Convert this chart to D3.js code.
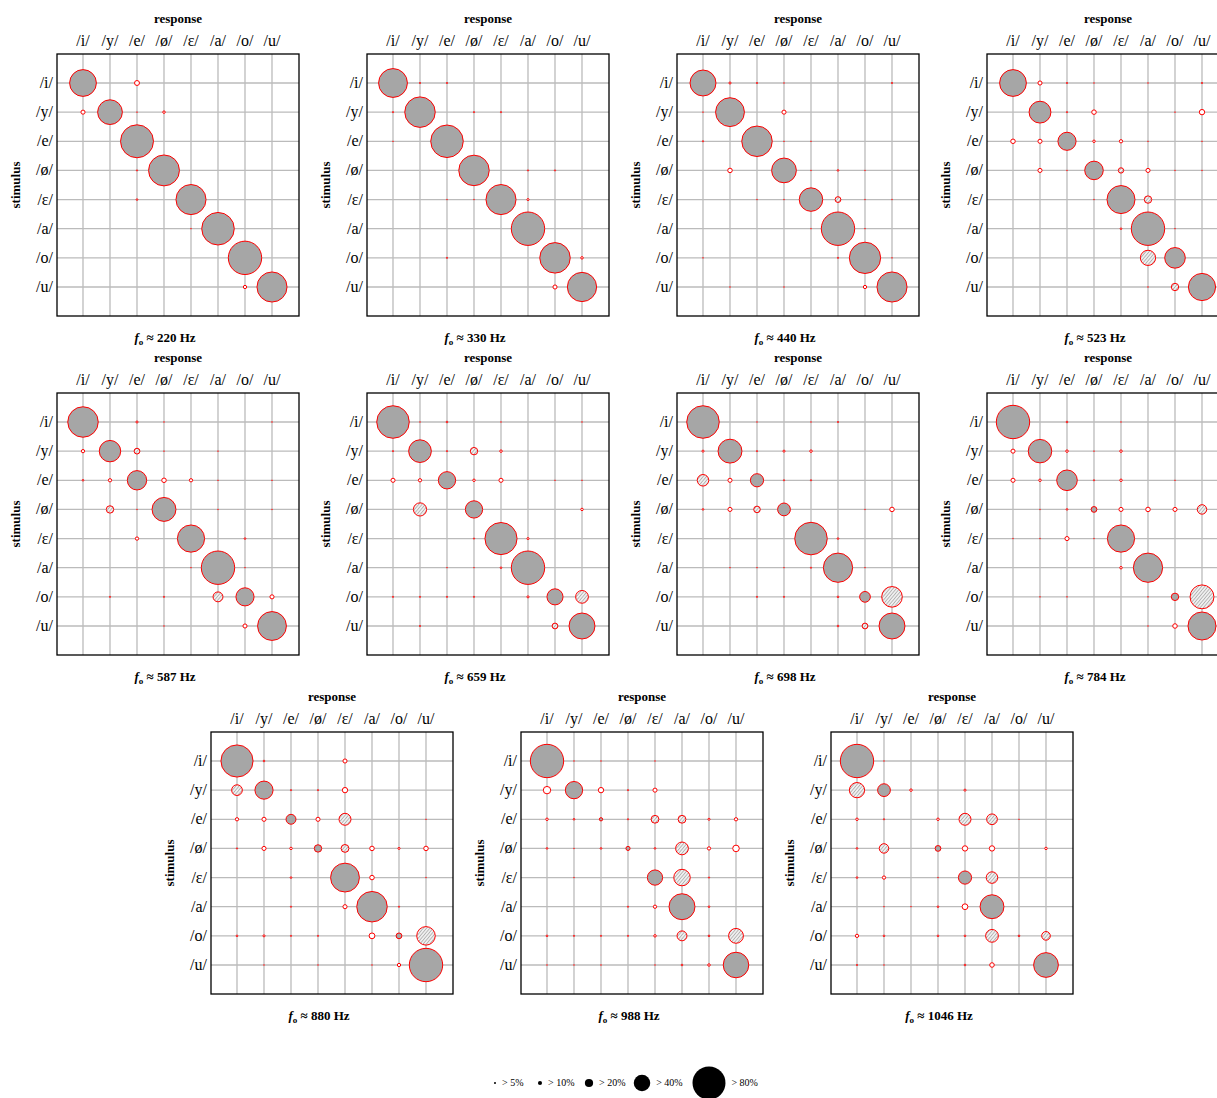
<!DOCTYPE html>
<html><head><meta charset="utf-8">
<script src="https://cdn.jsdelivr.net/npm/d3@7"></script>
<style>body{margin:0;background:#fff;overflow:hidden}svg{display:block}text{font-family:"Liberation Serif","Times New Roman",serif}</style>
</head><body><svg id="c" width="1217" height="1098"></svg>
<script>
const vowels = ["/i/","/y/","/e/","/ø/","/ε/","/a/","/o/","/u/"];
const freqs = [220,330,440,523,587,659,698,784,880,988,1046];
// rows = stimulus, cols = response (percent)
const m220 = [[65,0,12,0,0,0,0,0],[10,60,2,6,0,0,0,0],[0,0,80,0,0,0,0,0],[0,0,3,75,0,0,0,0],[0,0,4,0,73,0,0,0],[0,0,0,0,2,79,0,0],[0,0,0,0,0,0,81,0],[0,0,0,0,0,0,8,73]];
const m330 = [[70,3,3,0,0,0,0,0],[3,74,0,3,3,0,0,0],[2,0,79,0,0,0,0,0],[0,0,0,74,0,3,3,0],[0,0,2,2,73,5,0,0],[0,0,0,0,0,81,0,0],[0,0,3,0,0,0,74,6],[0,0,0,0,0,0,10,71]];
const m440 = [[63,5,3,2,0,0,0,3],[2,70,0,10,0,0,0,0],[3,0,74,2,2,0,0,0],[0,11,0,60,2,4,2,0],[0,0,2,2,57,14,2,2],[0,0,0,0,2,81,2,0],[2,0,0,0,0,3,76,2],[0,2,0,2,0,0,8,73]];
const m523 = [[65,10,3,2,0,2,0,3],[0,53,3,11,0,0,2,13],[11,10,44,6,8,2,0,2],[0,10,2,45,13,10,2,2],[0,0,0,2,68,18,0,0],[0,0,0,0,4,81,2,0],[0,0,0,0,0,37,50,0],[0,0,0,0,0,2,18,66]];
const m587 = [[74,0,5,2,0,0,0,2],[8,52,14,2,0,2,0,0],[4,8,47,11,8,2,0,2],[0,18,2,58,0,2,0,2],[0,0,8,0,66,0,4,0],[0,0,0,0,2,81,2,0],[0,3,0,3,0,24,44,10],[0,0,0,2,0,0,10,70]];
const m659 = [[79,2,4,0,2,0,0,2],[3,55,3,18,6,0,0,0],[10,8,42,6,10,0,2,2],[0,32,0,42,0,0,0,6],[0,0,0,3,78,5,0,0],[0,0,2,2,4,81,0,0],[3,3,3,3,0,5,39,31],[0,3,0,0,0,0,14,63]];
const m698 = [[79,0,2,0,2,3,0,0],[5,58,3,5,6,0,0,0],[28,10,32,3,3,0,0,0],[4,10,16,31,0,0,2,11],[0,0,0,0,79,4,0,0],[0,2,2,2,3,71,2,0],[0,0,3,3,0,4,26,50],[0,0,0,0,0,4,14,63]];
const m784 = [[81,0,4,0,2,0,0,0],[10,57,6,2,6,0,0,0],[10,6,50,3,6,0,2,0],[0,2,4,14,10,11,10,23],[2,2,10,2,66,0,0,0],[0,0,0,0,6,71,0,0],[0,2,2,0,0,2,18,58],[0,0,0,0,0,2,11,68]];
const m880 = [[78,4,0,0,10,0,0,0],[26,44,3,3,13,0,0,0],[8,10,24,10,29,0,0,2],[3,10,6,18,19,11,5,11],[0,0,4,0,70,11,0,2],[0,0,3,0,10,74,3,0],[4,5,3,3,0,14,14,45],[0,2,0,2,0,2,8,81]];
const m988 = [[81,2,2,0,2,0,0,0],[18,42,13,3,10,0,0,0],[6,4,8,3,19,19,5,8],[4,2,4,10,4,31,8,16],[0,2,0,0,37,40,3,0],[0,0,0,3,8,63,4,0],[4,3,3,3,6,24,4,36],[2,2,2,0,2,4,6,62]];
const m1046 = [[81,2,0,0,0,0,0,0],[37,31,6,0,5,0,0,0],[6,3,0,6,29,26,2,0],[4,23,0,14,13,13,0,6],[4,8,0,2,32,28,0,0],[0,2,2,4,14,58,0,0],[8,4,0,4,4,31,4,21],[3,2,0,0,4,11,0,60]];
const matrices = [m220,m330,m440,m523,m587,m659,m698,m784,m880,m988,m1046];
// hatched off-diagonal cells, "row-col" indices
const hatched = [[],[],["4-5"],["3-4","4-5","6-5","7-6"],["1-2","3-1","6-5"],["1-3","3-1","6-7","7-6"],["2-0","3-2","6-7","7-6"],["3-7","6-7"],["1-0","2-4","3-4","6-7"],["2-4","2-5","3-5","4-5","6-5","6-7"],["1-0","2-4","2-5","3-1","4-5","6-5","6-7"]];
const legendVals = [5,10,20,40,80];
const legendLabels = ["> 5%","> 10%","> 20%","> 40%","> 80%"];

const svg = d3.select("#c");
const defs = svg.append("defs");
const pat = defs.append("pattern").attr("id","hatch").attr("patternUnits","userSpaceOnUse").attr("width",2.5).attr("height",2.5).attr("patternTransform","rotate(40)");
pat.append("rect").attr("width",2.5).attr("height",2.5).attr("fill","#f2f2f2");
pat.append("line").attr("x1",1.25).attr("y1",0).attr("x2",1.25).attr("y2",2.5).attr("stroke","#b0b0b0").attr("stroke-width",0.9);

const W = 242, H = 262;
const x = d3.scalePoint().domain(vowels).range([26,215]);
const y = d3.scalePoint().domain(vowels).range([29,233]);
const r = d3.scaleLinear().domain([0,100]).range([0,20.6]);

const origins = freqs.map((f,i)=> i<8 ? [57+310*(i%4), 54+339*Math.floor(i/4)] : [211+310*(i-8), 732]);

freqs.forEach((f,pi)=>{
  const [ox,oy] = origins[pi];
  const g = svg.append("g").attr("transform",`translate(${ox},${oy})`);
  g.selectAll("line.v").data(vowels).join("line").attr("x1",d=>x(d)).attr("x2",d=>x(d)).attr("y1",0).attr("y2",H).attr("stroke","#bbb").attr("stroke-width",1.3);
  g.selectAll("line.h").data(vowels).join("line").attr("y1",d=>y(d)).attr("y2",d=>y(d)).attr("x1",0).attr("x2",W).attr("stroke","#bbb").attr("stroke-width",1.3);
  g.append("rect").attr("width",W).attr("height",H).attr("fill","none").attr("stroke","#000").attr("stroke-width",1.3);
  const cells = [];
  matrices[pi].forEach((row,ri)=>row.forEach((v,ci)=>{ if(v>0) cells.push({ri,ci,v}); }));
  g.selectAll("circle").data(cells).join("circle")
    .attr("cx",d=>x(vowels[d.ci])).attr("cy",d=>y(vowels[d.ri])).attr("r",d=>r(d.v))
    .attr("fill",d=> d.ri===d.ci ? "#a6a6a6" : (hatched[pi].includes(d.ri+"-"+d.ci) ? "url(#hatch)" : "#fff"))
    .attr("stroke","#f00").attr("stroke-width",d=>d.v<3?0.8:1);
  g.selectAll("text.col").data(vowels).join("text").attr("x",d=>x(d)).attr("y",-8).attr("text-anchor","middle").attr("font-size",16).text(d=>d);
  g.selectAll("text.row").data(vowels).join("text").attr("x",-4).attr("y",d=>y(d)+5).attr("text-anchor","end").attr("font-size",16).text(d=>d);
  g.append("text").attr("x",W/2).attr("y",-31).attr("text-anchor","middle").attr("font-size",13).attr("font-weight","bold").text("response");
  g.append("text").attr("transform",`translate(-37,${H/2}) rotate(-90)`).attr("text-anchor","middle").attr("font-size",13).attr("font-weight","bold").text("stimulus");
  const t = g.append("text").attr("x",W/2-13).attr("y",H+26).attr("text-anchor","middle").attr("font-size",13).attr("font-weight","bold");
  t.append("tspan").attr("font-style","italic").text("f");
  t.append("tspan").attr("font-size",9).attr("dy",3).text("o");
  t.append("tspan").attr("dy",-3).text(` ≈ ${f} Hz`);
});

const lx = [495,540,589,642,709];
const lg = svg.append("g");
legendVals.forEach((v,i)=>{
  lg.append("circle").attr("cx",lx[i]).attr("cy",1083).attr("r",r(v)).attr("fill","#000");
  lg.append("text").attr("x",lx[i]+r(v)+6).attr("y",1086).attr("font-size",10).text(legendLabels[i]);
});
</script></body></html>
